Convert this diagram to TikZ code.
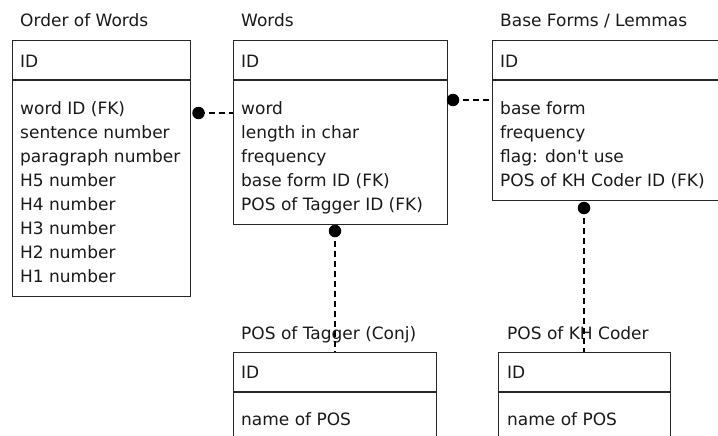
\documentclass[tikz,border=0pt]{standalone}
\usepackage{fontspec}
\setmainfont{DejaVu Sans}
\begin{document}
\begin{tikzpicture}[x=1pt,y=-1pt,
  box/.style={draw=black!85, line width=1.3pt, inner sep=0pt, anchor=north west},
  fld/.style={anchor=base west, inner sep=0pt, font=\fontsize{17}{20}\selectfont, text=black!90},
  dot/.style={circle, fill=black, inner sep=0pt, minimum size=12.5pt},
  link/.style={dashed, line width=2.2pt, dash pattern=on 6pt off 4pt}]
\useasboundingbox (0,0) rectangle (718,436);
% boxes
\node[box, minimum width=178pt, minimum height=256pt] (order) at (12,40) {};
\node[box, minimum width=214pt, minimum height=184pt] (words) at (233,40) {};
\node[box, minimum width=234pt, minimum height=160pt] (base) at (492,40) {};
\node[box, minimum width=203pt, minimum height=100pt] (tagger) at (233,352) {};
\node[box, minimum width=172pt, minimum height=100pt] (kh) at (498,352) {};
% separators
\foreach \b in {order,words,base,tagger,kh}
  \draw[line width=1.3pt, black!85] ([yshift=-40pt]\b.north west) -- ([yshift=-40pt]\b.north east);
% titles
\node[fld] (tOrder) at (20,27) {Order of Words};
\node[fld] (tWords) at (241,27) {Words};
\node[fld] (tBase) at (500,27) {Base Forms / Lemmas};
\node[fld] (tTagger) at (241,339) {POS of Tagger (Conj)};
\node[fld] (tKh) at (507,339) {POS of KH Coder};
% IDs
\node[fld] (idOrder) at (20,67) {ID};
\node[fld] (idWords) at (241,67) {ID};
\node[fld] (idBase) at (500,67) {ID};
\node[fld] (idTagger) at (241,378) {ID};
\node[fld] (idKh) at (507,378) {ID};
% fields
\foreach \t [count=\i] in {word ID (FK),sentence number,paragraph number,H5 number,H4 number,H3 number,H2 number,H1 number}
  \node[fld] (of\i) at (20,90+24*\i) {\t};
\foreach \t [count=\i] in {word,length in char,frequency,base form ID (FK),POS of Tagger ID (FK)}
  \node[fld] (wf\i) at (241,90+24*\i) {\t};
\foreach \t [count=\i] in {base form,frequency,flag: don\textquotesingle t use,POS of KH Coder ID (FK)}
  \node[fld] (bf\i) at (500,90+24*\i) {\t};
\node[fld] (tf1) at (241,425) {name of POS};
\node[fld] (kf1) at (507,425) {name of POS};
% connectors
\node[dot] (d1) at (198.5,113) {};
\node[dot] (d2) at (453,100) {};
\node[dot] (d3) at (335,231) {};
\node[dot] (d4) at (584,208) {};
\draw[link] (d1.center) -- (d1 -| words.west);
\draw[link] (d2.center) -- (d2 -| base.west);
\draw[link] (d3.center) -- (d3 |- tagger.north);
\draw[link] (d4.center) -- (d4 |- kh.north);
\end{tikzpicture}
\end{document}
